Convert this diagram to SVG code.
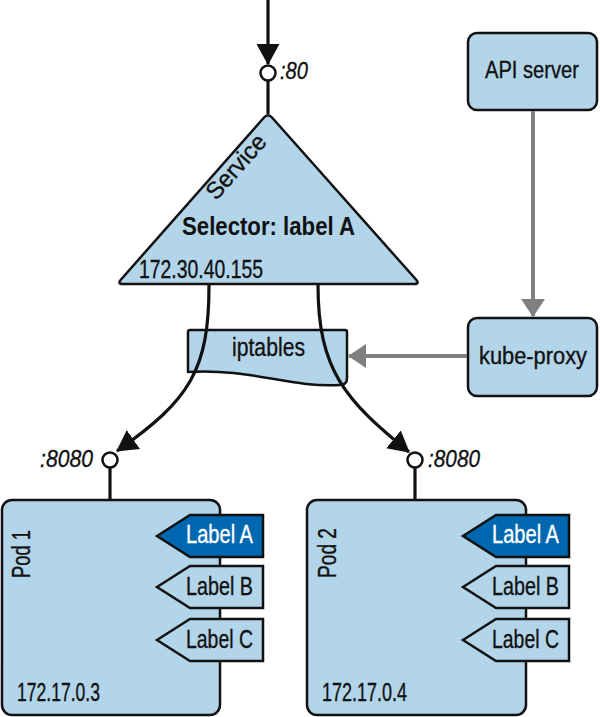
<svg xmlns="http://www.w3.org/2000/svg" width="600" height="717" viewBox="0 0 600 717">
<defs>
<style>
.shape{fill:#b3d5ea;stroke:#111;stroke-width:2.5;stroke-linejoin:round}
.lblA{fill:#0067b1;stroke:#111;stroke-width:2.5;stroke-linejoin:miter}
.lbl{fill:#b3d5ea;stroke:#111;stroke-width:2.5;stroke-linejoin:miter}
.port{fill:#fff;stroke:#111;stroke-width:2.5}
.t{font-family:"Liberation Sans",Arial,sans-serif;font-size:25px;fill:#111;stroke:#111;stroke-width:0.35}
.tw{font-family:"Liberation Sans",Arial,sans-serif;font-size:25px;fill:#fff;stroke:#fff;stroke-width:0.35}
.it{font-style:italic;font-size:23px}
.b{font-weight:bold;font-size:26px;stroke-width:0}
.bx{font-size:23px}
.blk{fill:none;stroke:#111;stroke-width:3.2}
.gry{fill:none;stroke:#808080;stroke-width:4}
</style>
<marker id="ab" markerUnits="userSpaceOnUse" viewBox="0 0 21 23" refX="20" refY="11.5" markerWidth="21" markerHeight="23" orient="auto"><path d="M0,0 L21,11.5 L0,23 Z" fill="#111"/></marker>
<marker id="ag" markerUnits="userSpaceOnUse" viewBox="0 0 18 24" refX="17" refY="12" markerWidth="18" markerHeight="24" orient="auto"><path d="M0,0 L18,12 L0,24 Z" fill="#808080"/></marker>
</defs>

<g id="service">
<path class="shape" d="M264,117.5 Q268,113 272,117.5 L416,279.5 Q420,284 414,284 L123,284 Q117,284 121,279.5 Z"/>
<text class="t" transform="translate(242,172) rotate(-48.6)" text-anchor="middle" textLength="78" lengthAdjust="spacingAndGlyphs" style="font-size:24px">Service</text>
<text class="t b" x="182" y="235" textLength="173" lengthAdjust="spacingAndGlyphs">Selector: label A</text>
<text class="t" x="139" y="278" textLength="124" lengthAdjust="spacingAndGlyphs">172.30.40.155</text>
</g>

<g id="iptables">
<path class="shape" d="M190,330 L345,330 Q347,330 347,332 L347,378 Q347,385 340,385 C290,388 250,368 188,372 L188,332 Q188,330 190,330 Z"/>
<text class="t" x="268.5" y="356" text-anchor="middle" textLength="73" lengthAdjust="spacingAndGlyphs">iptables</text>
</g>

<g id="api-server">
<rect class="shape" x="468" y="33" width="129" height="77" rx="9"/>
<text class="t bx" x="532" y="78" text-anchor="middle" textLength="94" lengthAdjust="spacingAndGlyphs">API server</text>
</g>

<g id="kube-proxy">
<rect class="shape" x="468" y="318" width="129" height="78" rx="9"/>
<text class="t bx" x="533" y="364" text-anchor="middle" textLength="108" lengthAdjust="spacingAndGlyphs">kube-proxy</text>
</g>

<g id="pod1">
<rect class="shape" x="2" y="500" width="218" height="215" rx="10"/>
<text class="t" transform="translate(30,578) rotate(-90)" textLength="48" lengthAdjust="spacingAndGlyphs">Pod 1</text>
<text class="t" x="17" y="701" textLength="83" lengthAdjust="spacingAndGlyphs">172.17.0.3</text>
<polygon class="lblA" points="157,536 190,515 263,515 263,557 190,557"/>
<text class="tw" x="186" y="543" textLength="67" lengthAdjust="spacingAndGlyphs">Label A</text>
<polygon class="lbl" points="157,587 190,566 263,566 263,608 190,608"/>
<text class="t" x="186" y="595" textLength="67" lengthAdjust="spacingAndGlyphs">Label B</text>
<polygon class="lbl" points="157,640 190,619 263,619 263,661 190,661"/>
<text class="t" x="186" y="648" textLength="67" lengthAdjust="spacingAndGlyphs">Label C</text>
</g>

<g id="pod2">
<rect class="shape" x="307" y="500" width="219" height="215" rx="10"/>
<text class="t" transform="translate(336,578) rotate(-90)" textLength="50" lengthAdjust="spacingAndGlyphs">Pod 2</text>
<text class="t" x="322" y="701" textLength="85" lengthAdjust="spacingAndGlyphs">172.17.0.4</text>
<polygon class="lblA" points="463,536 496,515 569,515 569,557 496,557"/>
<text class="tw" x="492" y="543" textLength="67" lengthAdjust="spacingAndGlyphs">Label A</text>
<polygon class="lbl" points="463,587 496,566 569,566 569,608 496,608"/>
<text class="t" x="492" y="595" textLength="67" lengthAdjust="spacingAndGlyphs">Label B</text>
<polygon class="lbl" points="463,640 496,619 569,619 569,661 496,661"/>
<text class="t" x="492" y="648" textLength="67" lengthAdjust="spacingAndGlyphs">Label C</text>
</g>

<g id="connectors">
<line class="blk" x1="268" y1="0" x2="268" y2="64" marker-end="url(#ab)"/>
<line class="blk" x1="268" y1="80" x2="268" y2="114"/>
<circle class="port" cx="268" cy="73" r="7.5"/>
<text class="t it" x="280" y="79" textLength="28" lengthAdjust="spacingAndGlyphs">:80</text>

<path class="blk" d="M209,285 C209,370 190,400 117,451" marker-end="url(#ab)"/>
<path class="blk" d="M318,285 C318,370 345,400 409,452" marker-end="url(#ab)"/>

<line class="blk" x1="110" y1="467" x2="110" y2="500"/>
<circle class="port" cx="110" cy="460" r="7.5"/>
<text class="t it" x="40" y="467" textLength="53" lengthAdjust="spacingAndGlyphs">:8080</text>

<line class="blk" x1="415" y1="467" x2="415" y2="500"/>
<circle class="port" cx="415" cy="460" r="7.5"/>
<text class="t it" x="428" y="467" textLength="52" lengthAdjust="spacingAndGlyphs">:8080</text>

<line class="gry" x1="533" y1="111" x2="533" y2="316" marker-end="url(#ag)"/>
<line class="gry" x1="467" y1="356" x2="349" y2="356" marker-end="url(#ag)"/>
</g>
</svg>
